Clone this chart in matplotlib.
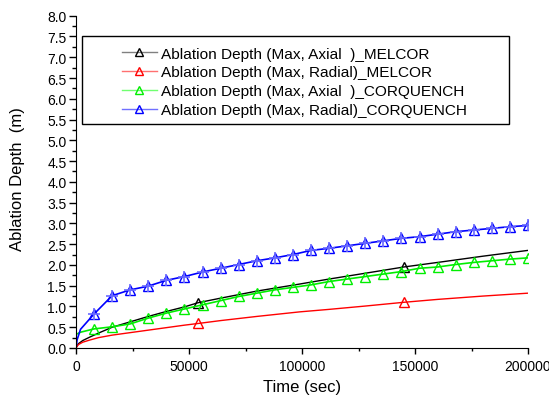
import numpy as np
import matplotlib.pyplot as plt
from matplotlib.lines import Line2D
from matplotlib.patches import Rectangle
from matplotlib.ticker import MultipleLocator

plt.rcParams['font.family'] = ['Liberation Sans', 'DejaVu Sans']

# dados (tempo em s, profundidade em m)
t_mk = [8000 * i for i in range(1, 26)]

# CORQUENCH: pontos com marcador a cada ~8000 s
t_cq = [0, 500, 2000] + t_mk
axial_cq = [0.33, 0.34, 0.38,
            0.46, 0.51, 0.58, 0.72, 0.84, 0.94, 1.04, 1.14, 1.24, 1.32,
            1.40, 1.46, 1.52, 1.60, 1.66, 1.72, 1.78, 1.84, 1.92, 1.95,
            2.01, 2.06, 2.10, 2.14, 2.17]
radial_cq = [0.0, 0.20, 0.45,
             0.82, 1.26, 1.40, 1.49, 1.63, 1.72, 1.83, 1.92, 2.01, 2.10,
             2.17, 2.25, 2.35, 2.40, 2.46, 2.52, 2.58, 2.64, 2.68, 2.74,
             2.80, 2.84, 2.88, 2.92, 2.95]

# MELCOR: curva continua, marcadores so em dois pontos
t_mel = [0, 1000, 3000, 6000, 10000, 16000, 24000, 32000, 40000, 48000,
         54000, 64000, 80000, 99000, 112000, 128000, 145000, 160000,
         180000, 200000]
axial_mel = [0.0, 0.10, 0.18, 0.26, 0.36, 0.50, 0.63, 0.76, 0.88, 0.99,
             1.09, 1.20, 1.37, 1.54, 1.66, 1.80, 1.95, 2.06, 2.21, 2.35]
radial_mel = [0.0, 0.08, 0.14, 0.19, 0.25, 0.31, 0.37, 0.43, 0.49, 0.55,
              0.59, 0.66, 0.76, 0.87, 0.93, 1.01, 1.10, 1.17, 1.25, 1.32]
t_mel_mk = [54000, 145000]
axial_mel_mk = [1.09, 1.95]
radial_mel_mk = [0.59, 1.10]

labels = ["Ablation Depth (Max, Axial  )_MELCOR",
          "Ablation Depth (Max, Radial)_MELCOR",
          "Ablation Depth (Max, Axial  )_CORQUENCH",
          "Ablation Depth (Max, Radial)_CORQUENCH"]

W, H = 549, 402
fig = plt.figure(figsize=(W / 100, H / 100), dpi=100)
ax = fig.add_axes([76 / W, 1 - 349 / H, 452 / W, 332.3 / H])

mk = dict(marker='^', markersize=7, markerfacecolor='none', markeredgewidth=1.0)

ax.plot(t_mel, axial_mel, color='black', lw=1.0)
ax.plot(t_mel_mk, axial_mel_mk, ls='none', markeredgecolor='black', **mk)
ax.plot(t_mel, radial_mel, color='red', lw=1.0)
ax.plot(t_mel_mk, radial_mel_mk, ls='none', markeredgecolor='red', **mk)

ax.plot(t_cq, axial_cq, color='#00ee00', lw=1.2)
ax.plot(t_mk, axial_cq[3:], ls='none', markeredgecolor='#00ee00', **mk)

ax.plot(t_cq, radial_cq, color='blue', lw=1.2)
ax.plot(t_mk, radial_cq[3:], ls='none', markeredgecolor='blue', **mk)
ax.plot(t_mk, radial_cq[3:], ls='none', marker='+', markersize=8,
        color='#6a6aff', markeredgewidth=1.2)

ax.set_xlim(0, 200000)
ax.set_ylim(0, 8.0)
ax.xaxis.set_major_locator(MultipleLocator(50000))
ax.xaxis.set_minor_locator(MultipleLocator(25000))
ax.yaxis.set_major_locator(MultipleLocator(0.5))
ax.yaxis.set_minor_locator(MultipleLocator(0.25))
ax.yaxis.set_major_formatter(plt.FormatStrFormatter('%.1f'))
ax.tick_params(axis='x', which='major', direction='out', length=4.3, width=1,
               labelsize=10, pad=3.8)
ax.tick_params(axis='x', which='minor', direction='out', length=2.3, width=1)
ax.tick_params(axis='y', which='major', direction='out', length=5.4, width=1,
               labelsize=10, pad=1.5)
ax.tick_params(axis='y', which='minor', direction='out', length=3, width=1)
for s in ['top', 'right']:
    ax.spines[s].set_visible(False)

ax.set_xlabel("Time (sec)", fontsize=12)
ax.set_ylabel("Ablation Depth  (m)", fontsize=12)
ax.xaxis.set_label_coords(0.5, (349 - 380) / 332.3)
ax.yaxis.set_label_coords((25 - 76) / 452, (349 - 179) / 332.3)

# caixa da legenda desenhada a parte (estilo Origin, margem esquerda larga)
fig.patches.append(Rectangle((82 / W, 1 - 125 / H), (509 - 82) / W, 88 / H,
                             transform=fig.transFigure, facecolor='white',
                             edgecolor='black', lw=1.0, zorder=5))

handles = [
    Line2D([], [], color='gray', lw=1.0, marker='^', markersize=6,
           markerfacecolor='none', markeredgecolor='black'),
    Line2D([], [], color='#ff7070', lw=1.0, marker='^', markersize=6,
           markerfacecolor='none', markeredgecolor='red'),
    Line2D([], [], color='#70ff70', lw=1.0, marker='^', markersize=6,
           markerfacecolor='none', markeredgecolor='#00ee00'),
    Line2D([], [], color='#7070ff', lw=1.0, marker='^', markersize=6,
           markerfacecolor='none', markeredgecolor='blue'),
]
leg = fig.legend(handles, labels, loc='upper left',
                 bbox_to_anchor=(122 / W, 1 - 47.5 / H),
                 fontsize=11.1, frameon=False, handlelength=2.27,
                 borderpad=0, labelspacing=0.32, handletextpad=0.26,
                 borderaxespad=0)
leg.set_zorder(6)

fig.savefig("out.png", dpi=100)
